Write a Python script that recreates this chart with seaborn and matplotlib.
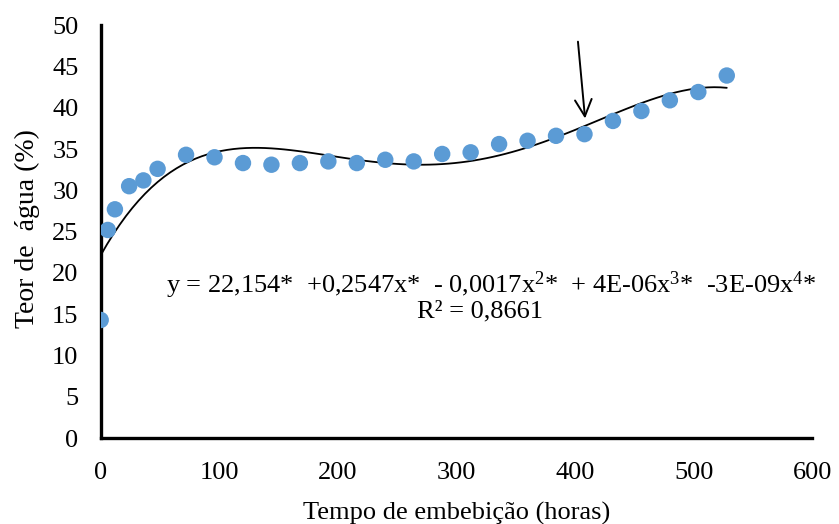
import matplotlib
matplotlib.use("Agg")
import matplotlib.pyplot as plt
import seaborn as sns
import pandas as pd

# tempo de embebição (horas) e teor de água (%)
horas = [0, 6, 12, 24, 36, 48, 72, 96, 120, 144, 168, 192, 216,
         240, 264, 288, 312, 336, 360, 384, 408, 432, 456, 480, 504, 528]
teor = [14.3, 25.2, 27.7, 30.5, 31.2, 32.6, 34.3, 34.0, 33.3, 33.1, 33.3, 33.5, 33.3,
        33.7, 33.5, 34.4, 34.6, 35.6, 36.0, 36.6, 36.8, 38.4, 39.6, 40.9, 41.9, 43.9]

equacao = ("y = 22,154*  +0,2547x*  - 0,0017x$^{2}$*  + 4E-06x$^{3}$*  "
           "-3E-09x$^{4}$*")
r2 = "R² = 0,8661"

df = pd.DataFrame({"horas": horas, "teor": teor})

sns.set_style("white")
plt.rcParams["font.family"] = ["Liberation Serif", "DejaVu Serif"]
plt.rcParams["mathtext.fontset"] = "custom"
plt.rcParams["mathtext.rm"] = "Liberation Serif"
plt.rcParams["mathtext.it"] = "Liberation Serif:italic"
for k in ["text.color", "axes.labelcolor", "xtick.color", "ytick.color"]:
    plt.rcParams[k] = "black"

fig, ax = plt.subplots(figsize=(8.39, 5.24), dpi=100)
fig.subplots_adjust(left=0.120, right=0.968, bottom=0.164, top=0.952)

# pontos + linha de tendência polinomial (ordem 4)
sns.regplot(data=df, x="horas", y="teor", order=4, ci=None, ax=ax,
            scatter_kws=dict(s=140, color="#5B9BD5", edgecolor="none", alpha=1, zorder=3),
            line_kws=dict(color="black", lw=1.3, zorder=2))

ax.set_xlim(0, 600)
ax.set_ylim(0, 50)
ax.set_xticks(range(0, 601, 100))
ax.set_yticks(range(0, 51, 5))
ax.tick_params(length=0, labelsize=19)
ax.tick_params(axis="x", pad=17)
ax.tick_params(axis="y", pad=16)
ax.set_xlabel("Tempo de embebição (horas)", fontsize=19, labelpad=13)
ax.set_ylabel("Teor de  água (%)", fontsize=20)
ax.yaxis.set_label_coords(-0.085, 0.508)

for side in ["top", "right"]:
    ax.spines[side].set_visible(False)
for side in ["left", "bottom"]:
    ax.spines[side].set_color("black")
    ax.spines[side].set_linewidth(2.4)

ax.text(55, 18.5, equacao, fontsize=19, va="center", ha="left")
ax.text(320, 15.3, r2, fontsize=19, va="center", ha="center")

ax.annotate("", xy=(408.5, 38.7), xytext=(402.5, 48.0),
            arrowprops=dict(arrowstyle="->", color="black", lw=1.4,
                            mutation_scale=30, shrinkA=0, shrinkB=0))

plt.savefig("out.png", dpi=100)
plt.close()
